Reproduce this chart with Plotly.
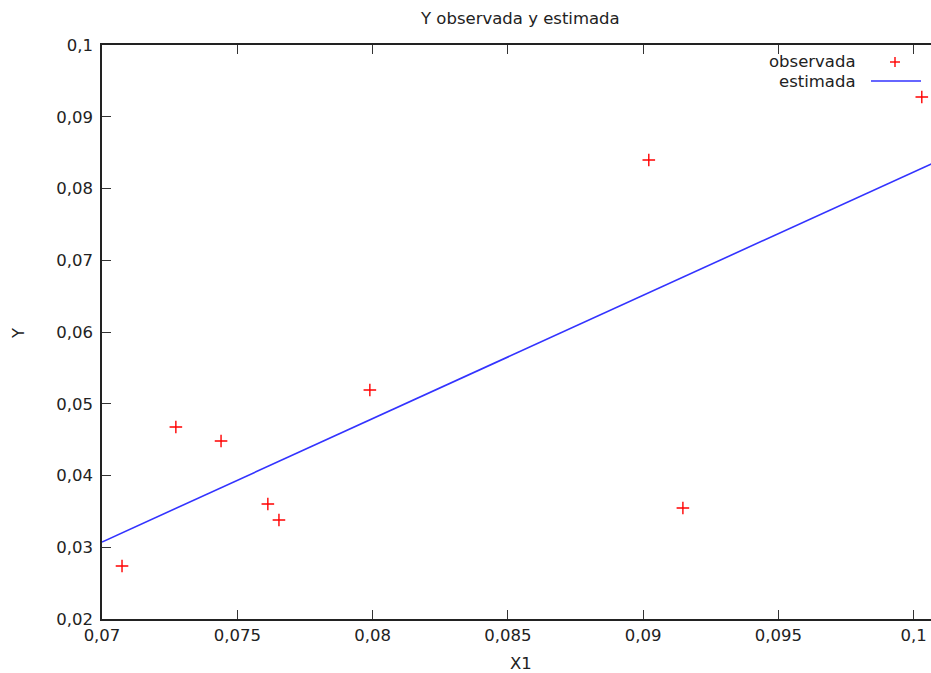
import plotly.graph_objects as go

# Observed data
x_obs = [0.07074, 0.07273, 0.07440, 0.07613, 0.07654, 0.07990, 0.09021, 0.09147, 0.10030]
y_obs = [0.02739, 0.04676, 0.04481, 0.03603, 0.03380, 0.05192, 0.08397, 0.03547, 0.09275]

# Estimated (fitted) line
x_est = [0.0700, 0.1007]
y_est = [0.03073, 0.08351]

x_tickvals = [0.07, 0.075, 0.08, 0.085, 0.09, 0.095, 0.1]
x_ticktext = ["0,07", "0,075", "0,08", "0,085", "0,09", "0,095", "0,1"]
y_tickvals = [0.02, 0.03, 0.04, 0.05, 0.06, 0.07, 0.08, 0.09, 0.1]
y_ticktext = ["0,02", "0,03", "0,04", "0,05", "0,06", "0,07", "0,08", "0,09", "0,1"]

FONT = "DejaVu Sans"
FS = 16.5
TXT = "#222222"

fig = go.Figure()
fig.add_trace(go.Scatter(x=x_est, y=y_est, mode="lines",
                         line=dict(color="#3333ff", width=1.6), showlegend=False))
fig.add_trace(go.Scatter(x=x_obs, y=y_obs, mode="markers",
                         marker=dict(symbol="cross-thin", size=9,
                                     line=dict(color="#ff0000", width=1.4)),
                         showlegend=False))

W, H = 931, 673
L, R, T, B = 102, 0, 45, 54

axis_common = dict(showgrid=False, zeroline=False, showline=True, linecolor="#222222",
                   linewidth=1.5, ticks="inside", ticklen=9, tickwidth=1.2,
                   tickcolor="#333333",
                   tickfont=dict(family=FONT, size=FS, color=TXT))

fig.update_layout(
    width=W, height=H,
    margin=dict(l=L, r=R, t=T, b=B),
    paper_bgcolor="white", plot_bgcolor="white",
    showlegend=False,
    xaxis=dict(range=[0.07, 0.10064], tickvals=x_tickvals, ticktext=x_ticktext,
               mirror="ticks", **axis_common),
    yaxis=dict(range=[0.02, 0.1], tickvals=y_tickvals, ticktext=y_ticktext,
               ticklabelstandoff=4, mirror=False, **axis_common),
)

def px_x(p):
    return (p - L) / (W - L - R)

def px_y(p):
    return 1 - (p - T) / (H - T - B)

annotations = [
    dict(text="Y observada y estimada", x=px_x(520), y=px_y(18), xref="paper", yref="paper",
         showarrow=False, font=dict(family=FONT, size=FS, color=TXT), xanchor="center", yanchor="middle"),
    dict(text="X1", x=px_x(521), y=px_y(663), xref="paper", yref="paper",
         showarrow=False, font=dict(family=FONT, size=FS, color=TXT), xanchor="center", yanchor="middle"),
    dict(text="Y", x=px_x(18), y=px_y(333), xref="paper", yref="paper", textangle=-90,
         showarrow=False, font=dict(family=FONT, size=FS, color=TXT), xanchor="center", yanchor="middle"),
    dict(text="observada", x=px_x(858), y=px_y(62), xref="paper", yref="paper",
         showarrow=False, font=dict(family=FONT, size=FS, color=TXT), xanchor="right", yanchor="middle"),
    dict(text="estimada", x=px_x(858), y=px_y(81), xref="paper", yref="paper",
         showarrow=False, font=dict(family=FONT, size=FS, color=TXT), xanchor="right", yanchor="middle"),
]
fig.update_layout(annotations=annotations)

shapes = [
    dict(type="line", xref="paper", yref="paper", x0=px_x(871), x1=px_x(921), y0=px_y(81), y1=px_y(81),
         line=dict(color="#3333ff", width=1.6)),
    dict(type="line", xref="paper", yref="paper", x0=px_x(890), x1=px_x(900), y0=px_y(62), y1=px_y(62),
         line=dict(color="#ff0000", width=1.4)),
    dict(type="line", xref="paper", yref="paper", x0=px_x(895), x1=px_x(895), y0=px_y(57), y1=px_y(67),
         line=dict(color="#ff0000", width=1.4)),
]
fig.update_layout(shapes=shapes)

fig.write_html("out.html")
